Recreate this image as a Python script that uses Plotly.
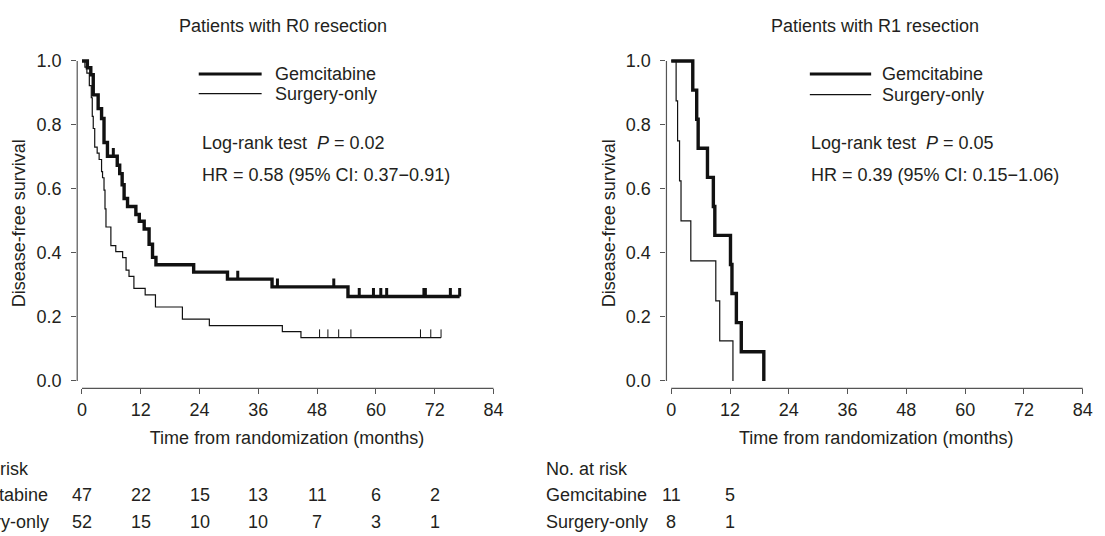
import numpy as np
import plotly.graph_objects as go

# ---------------- data ----------------
month_ticks = [0, 12, 24, 36, 48, 60, 72, 84]
surv_ticks = [0.0, 0.2, 0.4, 0.6, 0.8, 1.0]

# R0 resection
r0_gem_times = [1.1, 1.8, 2.3, 3.3, 4.0, 4.5, 5.2, 7.2, 7.7, 8.2, 8.6, 9.3, 11.0, 11.7,
                12.7, 13.7, 14.4, 15.1, 22.8, 29.7, 38.8, 54.3]
r0_gem_surv = [0.979, 0.957, 0.894, 0.851, 0.820, 0.745, 0.702, 0.674, 0.648, 0.613, 0.570,
               0.545, 0.520, 0.499, 0.475, 0.427, 0.386, 0.363, 0.340, 0.318, 0.294, 0.264]
r0_gem_censor = [6.4, 31.8, 39.9, 51.4, 56.6, 59.5, 61.0, 62.2, 69.8, 70.1, 75.2, 77.1]

r0_sur_times = [0.6, 1.0, 1.5, 1.9, 2.1, 2.3, 2.6, 3.1, 3.5, 4.0, 4.2, 4.5, 4.7, 4.9, 5.9,
                6.9, 8.3, 9.0, 9.6, 10.6, 12.9, 15.0, 20.5, 26.0, 40.9, 44.7]
r0_sur_surv = [0.981, 0.962, 0.923, 0.885, 0.827, 0.789, 0.731, 0.712, 0.692, 0.654, 0.635,
               0.596, 0.538, 0.481, 0.423, 0.404, 0.385, 0.346, 0.327, 0.289, 0.269, 0.231,
               0.193, 0.173, 0.154, 0.135]
r0_sur_censor = [48.5, 50.2, 52.4, 54.9, 69.1, 71.2, 73.3]

# R1 resection
r1_gem_times = [4.4, 5.2, 5.5, 7.4, 8.6, 8.9, 12.1, 12.4, 13.3, 14.3, 18.9]
r1_gem_surv = [0.909, 0.818, 0.727, 0.636, 0.545, 0.455, 0.364, 0.273, 0.182, 0.091, 0.0]
r1_gem_censor = []

r1_sur_times = [1.0, 1.3, 1.7, 2.0, 4.0, 9.1, 9.9, 12.6]
r1_sur_surv = [0.875, 0.75, 0.625, 0.5, 0.375, 0.25, 0.125, 0.0]
r1_sur_censor = []

# Numbers at risk
risk_times_r0 = [0, 12, 24, 36, 48, 60, 72]
r0_risk_gem = [47, 22, 15, 13, 11, 6, 2]
r0_risk_sur = [52, 15, 10, 10, 7, 3, 1]
risk_times_r1 = [0, 12]
r1_risk_gem = [11, 5]
r1_risk_sur = [8, 1]

panel_titles = ["Patients with R0 resection", "Patients with R1 resection"]
pvals = ["0.02", "0.05"]
hr_texts = ["HR = 0.58 (95% CI: 0.37\u22120.91)", "HR = 0.39 (95% CI: 0.15\u22121.06)"]

# ---------------- style ----------------
W, H = 1105, 536
FONT = "Liberation Sans, Arial, Helvetica, sans-serif"
TXT = "#231f20"
AX = "#555555"
CURVE = "#111111"
THICK, THIN = 3.4, 1.2
FS = 18

def px(x):
    return x / W

def py(y):
    return 1 - y / H

fig = go.Figure()

def km_trace(times, surv, censor, width, xa, ya, name):
    end = max(censor) if censor else times[-1]
    xs = [0] + list(times) + [end]
    ys = [1.0] + list(surv) + [surv[-1]]
    fig.add_trace(go.Scatter(x=xs, y=ys, mode="lines", line=dict(shape="hv", color=CURVE, width=width),
                             xaxis=xa, yaxis=ya, name=name, showlegend=False, hoverinfo="skip"))
    if censor:
        t = np.array(times)
        s = np.array(surv)
        idx = np.searchsorted(t, np.array(censor), side="right") - 1
        cy = [1.0 if i < 0 else float(s[i]) for i in idx]
        fig.add_trace(go.Scatter(x=censor, y=cy, mode="markers",
                                 marker=dict(size=2, color=CURVE, opacity=0),
                                 error_y=dict(type="data", symmetric=False, array=[0.026] * len(censor),
                                              arrayminus=[0] * len(censor), width=0,
                                              thickness=max(width - 0.4, 1.0), color=CURVE),
                                 xaxis=xa, yaxis=ya, showlegend=False, hoverinfo="skip",
                                 name=name + " censored"))

km_trace(r0_gem_times, r0_gem_surv, r0_gem_censor, THICK, "x", "y", "Gemcitabine")
km_trace(r0_sur_times, r0_sur_surv, r0_sur_censor, THIN, "x", "y", "Surgery-only")
km_trace(r1_gem_times, r1_gem_surv, r1_gem_censor, THICK, "x2", "y2", "Gemcitabine")
km_trace(r1_sur_times, r1_sur_surv, r1_sur_censor, THIN, "x2", "y2", "Surgery-only")

# panel geometry (pixels)
panels = [
    dict(ax_left=77.7, zero=82.5, right=500.0, xa="x", ya="y", leg_x0=200, leg_x1=263.3, leg_tx=275,
         txt_x=201.7, title_x=285, risk_x=-55.4, risk_t=risk_times_r0, rg=r0_risk_gem, rs=r0_risk_sur,
         leg_y2=88.3, ystandoff=6),
    dict(ax_left=670.7, zero=675.5, right=1093.0, xa="x2", ya="y2", leg_x0=815, leg_x1=876.7, leg_tx=886,
         txt_x=814.3, title_x=881, risk_x=547.6, risk_t=risk_times_r1, rg=r1_risk_gem, rs=r1_risk_sur,
         leg_y2=89.3, ystandoff=5),
]
PXM = 4.93  # px per month
top_px, bot_px = 52.0, 388.7
y0_px, y1_px = 381.0, 55.0
ppu = (y0_px - y1_px)
y_range = [-(bot_px - y0_px) / ppu, 1 + (y1_px - top_px) / ppu]

layout = dict(width=W, height=H, margin=dict(l=0, r=0, t=0, b=0), plot_bgcolor="white",
              paper_bgcolor="white", font=dict(family=FONT, size=FS, color=TXT), showlegend=False)

shapes = []
annotations = []
for i, p in enumerate(panels):
    sfx = "" if i == 0 else "2"
    xr = [(p["ax_left"] - p["zero"]) / PXM, (p["right"] - p["zero"]) / PXM]
    layout["xaxis" + sfx] = dict(domain=[px(p["ax_left"]), px(p["right"])], range=xr, anchor="y" + sfx,
                                 tickvals=month_ticks, ticks="outside", ticklen=5, tickwidth=1,
                                 tickcolor=AX, showline=False, showgrid=False, zeroline=False,
                                 ticklabelstandoff=0,
                                 title=dict(text="Time from randomization (months)", standoff=12,
                                            font=dict(size=FS)))
    layout["yaxis" + sfx] = dict(domain=[py(bot_px), py(top_px)], range=y_range, anchor="x" + sfx,
                                 tickvals=surv_ticks, tickformat=".1f", ticks="outside", ticklen=5,
                                 tickwidth=1, tickcolor=AX, showline=False, showgrid=False,
                                 zeroline=False, ticklabelstandoff=6,
                                 title=dict(text="Disease-free survival", standoff=p["ystandoff"],
                                            font=dict(size=FS)))
    # R-style detached axis lines spanning the tick range
    shapes.append(dict(type="line", xref=p["xa"] + " domain", yref=p["ya"], x0=0, x1=0, y0=0, y1=1,
                       line=dict(color=AX, width=1.2)))
    shapes.append(dict(type="line", xref=p["xa"], yref=p["ya"] + " domain", x0=0, x1=84, y0=0, y1=0,
                       line=dict(color=AX, width=1.2)))
    # legend samples
    shapes.append(dict(type="line", xref="paper", yref="paper", x0=px(p["leg_x0"]), x1=px(p["leg_x1"]),
                       y0=py(68.3), y1=py(68.3), line=dict(color=CURVE, width=3)))
    shapes.append(dict(type="line", xref="paper", yref="paper", x0=px(p["leg_x0"]), x1=px(p["leg_x1"]),
                       y0=py(p["leg_y2"]), y1=py(p["leg_y2"]), line=dict(color=CURVE, width=1.2)))
    annotations.append(dict(text="Gemcitabine", xref="paper", yref="paper", x=px(p["leg_tx"]), y=py(68.3),
                            xanchor="left", yanchor="middle", showarrow=False))
    annotations.append(dict(text="Surgery-only", xref="paper", yref="paper", x=px(p["leg_tx"]),
                            y=py(p["leg_y2"]), xanchor="left", yanchor="middle", showarrow=False))
    annotations.append(dict(text="Log-rank test  <i>P</i> = " + pvals[i], xref="paper", yref="paper",
                            x=px(p["txt_x"]), y=py(138.3), xanchor="left", yanchor="middle", showarrow=False))
    annotations.append(dict(text=hr_texts[i], xref="paper", yref="paper", x=px(p["txt_x"]), y=py(171.7),
                            xanchor="left", yanchor="middle", showarrow=False))
    annotations.append(dict(text=panel_titles[i], xref="paper", yref="paper", x=px(p["title_x"]), y=py(19),
                            xanchor="center", yanchor="middle", showarrow=False))
    # numbers at risk
    annotations.append(dict(text="No. at risk", xref="paper", yref="paper", x=px(p["risk_x"]), y=py(470.3),
                            xanchor="left", yanchor="middle", showarrow=False))
    annotations.append(dict(text="Gemcitabine", xref="paper", yref="paper", x=px(p["risk_x"]), y=py(497.7),
                            xanchor="left", yanchor="middle", showarrow=False))
    annotations.append(dict(text="Surgery-only", xref="paper", yref="paper", x=px(p["risk_x"]), y=py(525),
                            xanchor="left", yanchor="middle", showarrow=False))
    for t, n in zip(p["risk_t"], p["rg"]):
        annotations.append(dict(text=str(n), xref=p["xa"], yref="paper", x=t, y=py(497.7),
                                xanchor="center", yanchor="middle", showarrow=False))
    for t, n in zip(p["risk_t"], p["rs"]):
        annotations.append(dict(text=str(n), xref=p["xa"], yref="paper", x=t, y=py(525),
                                xanchor="center", yanchor="middle", showarrow=False))

layout["shapes"] = shapes
layout["annotations"] = annotations
fig.update_layout(**layout)
fig.write_html("out.html", config={"displayModeBar": False},
               post_script="document.body.style.margin='0px';document.body.style.padding='0px';")
